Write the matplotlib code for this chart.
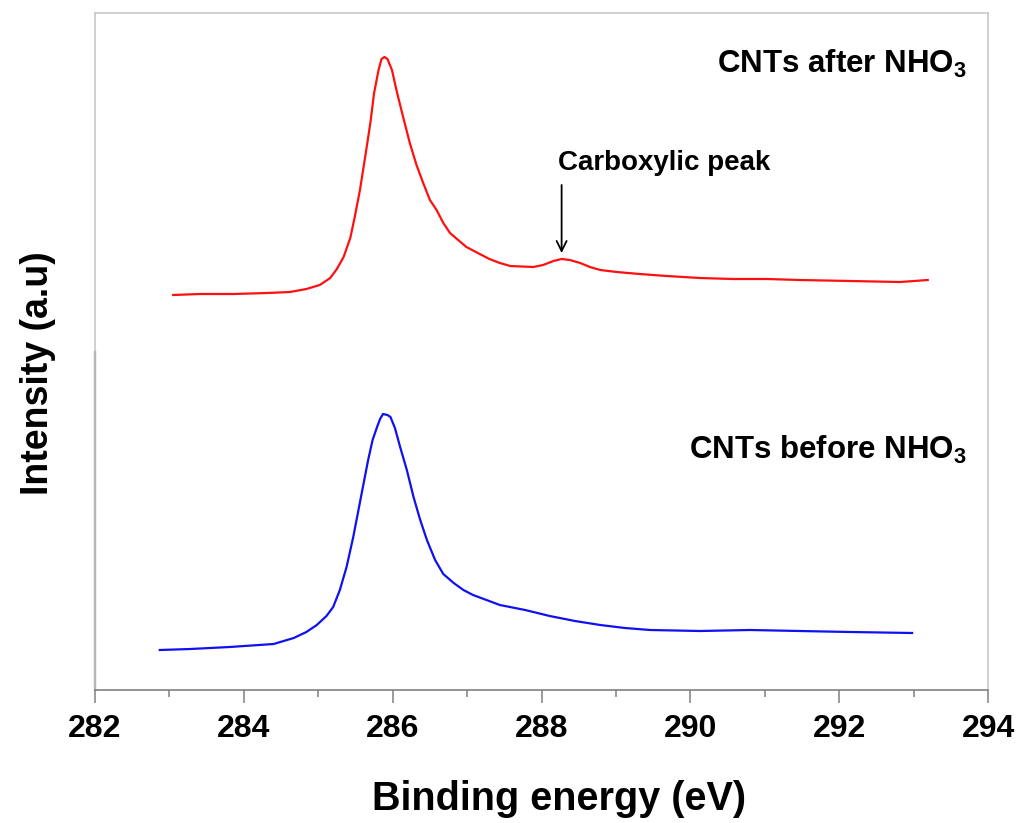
import matplotlib.pyplot as plt
from matplotlib.ticker import MultipleLocator

plt.rcParams['font.family'] = ['Liberation Sans', 'DejaVu Sans']
plt.rcParams['font.weight'] = 'bold'
plt.rcParams['mathtext.fontset'] = 'custom'
plt.rcParams['mathtext.rm'] = 'Liberation Sans:bold'
plt.rcParams['mathtext.bf'] = 'Liberation Sans:bold'

# C1s spectrum after acid treatment (offset upward)
after_x = [283.05, 283.41, 283.86, 284.31, 284.62, 284.84, 285.02, 285.16, 285.25,
           285.34, 285.43, 285.49, 285.56, 285.63, 285.70, 285.75, 285.81, 285.85,
           285.89, 285.93, 285.99, 286.05, 286.14, 286.23, 286.32, 286.41, 286.50,
           286.59, 286.68, 286.77, 286.99, 287.17, 287.30, 287.44, 287.58, 287.89,
           288.02, 288.16, 288.27, 288.38, 288.52, 288.65, 288.79, 289.01, 289.32,
           289.68, 290.13, 290.57, 291.03, 291.47, 292.15, 292.82, 293.19]
after_y = [395, 396, 396, 397, 398, 401, 405, 412, 421,
           433, 452, 473, 500, 533, 567, 597, 620, 631,
           633, 631, 620, 600, 573, 547, 525, 507, 490,
           480, 467, 457, 443, 436, 431, 427, 424, 423,
           425, 429, 431, 430, 427, 423, 420, 418, 416,
           414, 412, 411, 411, 410, 409, 408, 410]

# C1s spectrum before acid treatment
before_x = [282.87, 283.28, 283.81, 284.40, 284.67, 284.84, 284.98, 285.11, 285.20,
            285.29, 285.38, 285.47, 285.54, 285.61, 285.67, 285.73, 285.79, 285.83,
            285.87, 285.93, 285.97, 286.03, 286.10, 286.19, 286.28, 286.37, 286.46,
            286.57, 286.68, 286.82, 286.95, 287.08, 287.26, 287.44, 287.78, 288.11,
            288.45, 288.79, 289.12, 289.46, 290.13, 290.80, 291.47, 292.15, 292.98]
before_y = [40, 41, 43, 46, 52, 58, 65, 74, 83,
            100, 123, 153, 180, 207, 230, 250, 263, 271,
            276, 275, 273, 262, 243, 220, 193, 170, 150,
            130, 116, 107, 100, 95, 90, 85, 80, 74,
            69, 65, 62, 60, 59, 60, 59, 58, 57]

carboxylic_x = 288.27
carboxylic_y = 431

fig = plt.figure(figsize=(10.23, 8.23), dpi=100)
ax = fig.add_axes([0.0929, 0.1616, 0.8729, 0.8226])

ax.plot(after_x, after_y, color='#ff1010', lw=1.6)
ax.plot(before_x, before_y, color='#1010f0', lw=1.6)

ax.set_xlim(282, 294)
ax.set_ylim(0, 677)

for side in ['top', 'right', 'left']:
    ax.spines[side].set_color('#c8c8c8')
    ax.spines[side].set_linewidth(1.2)
ax.spines['bottom'].set_color('#808080')
ax.spines['bottom'].set_linewidth(1.2)
ax.axvline(282, ymin=0, ymax=0.5, color='#606060', lw=1.6, clip_on=False)

ax.xaxis.set_major_locator(MultipleLocator(2))
ax.xaxis.set_minor_locator(MultipleLocator(1))
ax.tick_params(axis='x', which='major', length=9.5, width=1.1, color='#808080',
               labelsize=23, pad=8)
ax.tick_params(axis='x', which='minor', length=5, width=1.1, color='#808080')
ax.set_yticks([])
for lab in ax.get_xticklabels():
    lab.set_fontweight('bold')

ax.set_xlabel('Binding energy (eV)', fontsize=28.5, fontweight='bold')
ax.xaxis.set_label_coords(0.52, -0.133)
ax.set_ylabel('Intensity (a.u)', fontsize=27, fontweight='bold')
ax.yaxis.set_label_coords(-0.044, 0.468)

ax.text(0.976, 0.912, r'CNTs after NHO$_{3}$', transform=ax.transAxes,
        ha='right', va='baseline', fontsize=22.5, fontweight='bold')
ax.text(0.976, 0.341, r'CNTs before NHO$_{3}$', transform=ax.transAxes,
        ha='right', va='baseline', fontsize=22.5, fontweight='bold')

ax.text(288.22, 527, 'Carboxylic peak', ha='left', va='center',
        fontsize=20, fontweight='bold')
ax.annotate('', xy=(carboxylic_x, carboxylic_y + 6), xytext=(carboxylic_x, 505),
            arrowprops=dict(arrowstyle='->', color='black', lw=1.3,
                            shrinkA=0, shrinkB=0, mutation_scale=18))

fig.savefig('out.png', dpi=100)
